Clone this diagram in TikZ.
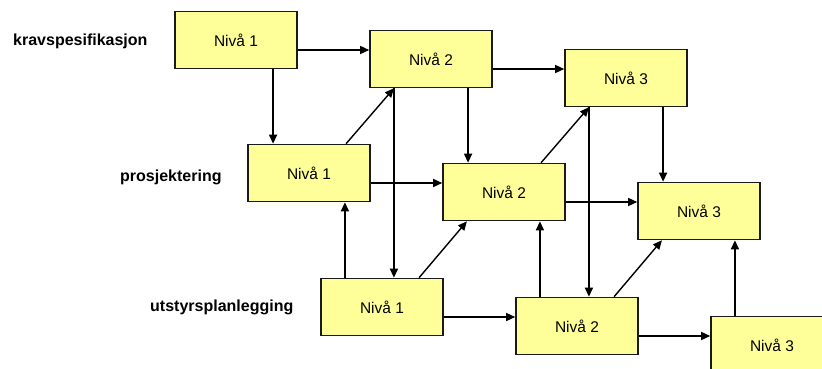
\documentclass[tikz,border=0pt]{standalone}
\usepackage{fontspec}
\setmainfont{Liberation Sans}
\usetikzlibrary{calc,arrows.meta}
\definecolor{boxfill}{HTML}{FFFF99}
\definecolor{boxline}{HTML}{1A1A1A}
\tikzset{
  level/.style={draw=boxline, line width=1.6pt, fill=boxfill, minimum width=122pt,
    minimum height=57pt, inner sep=0pt, font=\fontsize{15.5}{18}\selectfont},
  phase/.style={anchor=base west, inner sep=0pt, font=\fontsize{16}{19}\selectfont\bfseries},
  arr/.style={line width=1.4pt, draw=black, -{Triangle[length=9pt,width=8pt]}}
}
\begin{document}
\begin{tikzpicture}[x=1pt,y=-1pt]
\clip (0,0) rectangle (822,369);
\fill[white] (0,0) rectangle (822,369);

% phase labels
\node[phase] (lk) at (13,46) {kravspesifikasjon};
\node[phase] (lp) at (120,181) {prosjektering};
\node[phase] (lu) at (150,311) {utstyrsplanlegging};

% level boxes: rows = phases, columns = levels
\node[level] (A1) at (236,40) {Nivå 1};
\node[level] (A2) at (431,59) {Nivå 2};
\node[level] (A3) at (626,78) {Nivå 3};
\node[level] (B1) at (309,173) {Nivå 1};
\node[level] (B2) at (504,192) {Nivå 2};
\node[level] (B3) at (699,211) {Nivå 3};
\node[level] (C1) at (382,307) {Nivå 1};
\node[level] (C2) at (577,326) {Nivå 2};
\node[level] (C3) at (772,345) {Nivå 3};

% horizontal connectors, leaving 10pt below the source centre
\foreach \s/\t in {A1/A2,A2/A3,B1/B2,B2/B3,C1/C2,C2/C3}{
  \coordinate (h) at ($(\s.east)+(0,10)$);
  \draw[arr] (h) -- (h -| \t.west);
}

% downward connectors from 80% of the bottom edge
\foreach \s/\t in {A1/B1,A2/B2,A3/B3}{
  \coordinate (d) at ($(\s.south west)!0.8!(\s.south east)$);
  \draw[arr] (d) -- (d |- \t.north);
}
% long downward connectors from 20% of the bottom edge
\foreach \s/\t in {A2/C1,A3/C2}{
  \coordinate (d) at ($(\s.south west)!0.2!(\s.south east)$);
  \draw[arr] (d) -- (d |- \t.north);
}
% upward connectors from 20% of the top edge
\foreach \s/\t in {C1/B1,C2/B2,C3/B3}{
  \coordinate (u) at ($(\s.north west)!0.2!(\s.north east)$);
  \draw[arr] (u) -- (u |- \t.south);
}
% diagonal connectors
\foreach \s/\t in {B1/A2,B2/A3,C1/B2,C2/B3}{
  \draw[arr] ($(\s.north west)!0.8!(\s.north east)$) -- ($(\t.south west)!0.2!(\t.south east)$);
}
\end{tikzpicture}
\end{document}
